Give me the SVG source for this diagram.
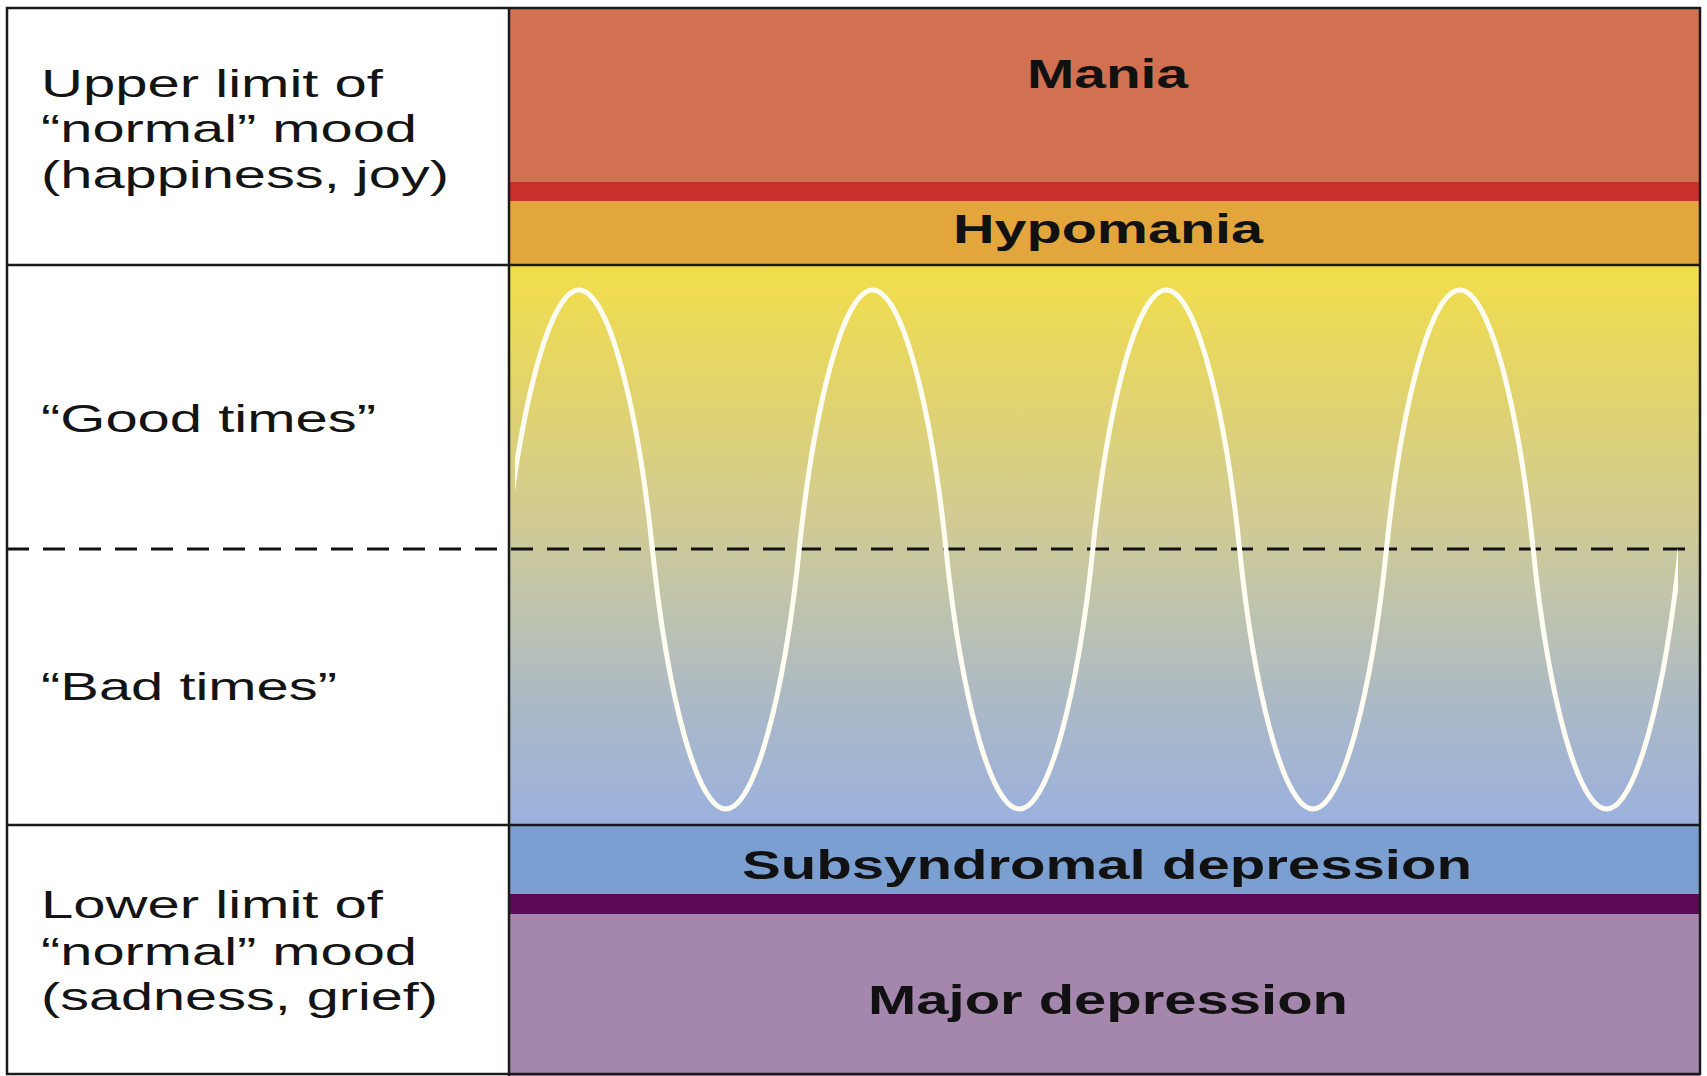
<svg xmlns="http://www.w3.org/2000/svg" width="1707" height="1076" viewBox="0 0 1707 1076">
<style>
.lbl{font-family:"Liberation Sans",Arial,sans-serif;font-size:39px;fill:#141414}
.band{font-family:"Liberation Sans",Arial,sans-serif;font-size:40px;font-weight:bold;fill:#111}
.grid{stroke:#1a1a1a;stroke-width:2.5;fill:none}
</style>
<defs>
<linearGradient id="mid" x1="0" y1="265" x2="0" y2="825" gradientUnits="userSpaceOnUse">
<stop offset="0" stop-color="#f2de4a"/>
<stop offset="0.22" stop-color="#e2d46c"/>
<stop offset="0.45" stop-color="#d2cb92"/>
<stop offset="0.6" stop-color="#c0c4ac"/>
<stop offset="0.8" stop-color="#aab8c8"/>
<stop offset="1" stop-color="#9bb1de"/>
</linearGradient>
<clipPath id="waveclip"><rect x="515" y="270" width="1163" height="552"/></clipPath>
</defs>
<rect x="0" y="0" width="1707" height="1076" fill="#ffffff"/>
<g id="bands">
<rect id="mania-band" x="509" y="8" width="1191" height="174" fill="#d27151"/>
<rect id="mania-line" x="509" y="182" width="1191" height="19.5" fill="#c8312b"/>
<rect id="hypomania-band" x="509" y="201.5" width="1191" height="63.5" fill="#e2a63d"/>
<rect id="normal-band" x="509" y="265" width="1191" height="560" fill="url(#mid)"/>
<rect id="subsyndromal-band" x="509" y="825" width="1191" height="69" fill="#7b9fd0"/>
<rect id="depression-line" x="509" y="894" width="1191" height="20" fill="#5d0a56"/>
<rect id="major-band" x="509" y="914" width="1191" height="162" fill="#a586ad"/>
</g>
<g id="connectors">
<line x1="7" y1="549" x2="1700" y2="549" stroke="#111" stroke-width="3" stroke-dasharray="22,14"/>
<path id="mood-wave" clip-path="url(#waveclip)" fill="none" stroke="#fffdf2" stroke-width="5" d="M505.6,549.5
c14.68,-142.73 44.04,-259.5 73.4,-259.5 c29.36,0 58.72,116.78 73.4,259.5 c14.68,142.73 44.04,259.5 73.4,259.5 c29.36,0 58.72,-116.78 73.4,-259.5
c14.68,-142.73 44.04,-259.5 73.4,-259.5 c29.36,0 58.72,116.78 73.4,259.5 c14.68,142.73 44.04,259.5 73.4,259.5 c29.36,0 58.72,-116.78 73.4,-259.5
c14.68,-142.73 44.04,-259.5 73.4,-259.5 c29.36,0 58.72,116.78 73.4,259.5 c14.68,142.73 44.04,259.5 73.4,259.5 c29.36,0 58.72,-116.78 73.4,-259.5
c14.68,-142.73 44.04,-259.5 73.4,-259.5 c29.36,0 58.72,116.78 73.4,259.5 c14.68,142.73 44.04,259.5 73.4,259.5 c29.36,0 58.72,-116.78 73.4,-259.5"/>
</g>
<g id="grid">
<rect class="grid" x="7" y="8" width="1693" height="1066"/>
<line class="grid" x1="509" y1="8" x2="509" y2="1076"/>
<line class="grid" x1="7" y1="265" x2="1700" y2="265"/>
<line class="grid" x1="7" y1="825" x2="1700" y2="825"/>
</g>
<g id="upper-limit">
<text class="lbl" x="41" y="97" textLength="342" lengthAdjust="spacingAndGlyphs">Upper limit of</text>
<text class="lbl" x="41" y="142" textLength="376" lengthAdjust="spacingAndGlyphs">“normal” mood</text>
<text class="lbl" x="41" y="188" textLength="408" lengthAdjust="spacingAndGlyphs">(happiness, joy)</text>
</g>
<g id="good-times">
<text class="lbl" x="41" y="432" textLength="335" lengthAdjust="spacingAndGlyphs">“Good times”</text>
</g>
<g id="bad-times">
<text class="lbl" x="41" y="700" textLength="296" lengthAdjust="spacingAndGlyphs">“Bad times”</text>
</g>
<g id="lower-limit">
<text class="lbl" x="41" y="918" textLength="342" lengthAdjust="spacingAndGlyphs">Lower limit of</text>
<text class="lbl" x="41" y="965" textLength="376" lengthAdjust="spacingAndGlyphs">“normal” mood</text>
<text class="lbl" x="41" y="1010" textLength="397" lengthAdjust="spacingAndGlyphs">(sadness, grief)</text>
</g>
<g id="mania">
<text class="band" x="1027" y="88" textLength="161" lengthAdjust="spacingAndGlyphs">Mania</text>
</g>
<g id="hypomania">
<text class="band" x="953" y="243" textLength="310" lengthAdjust="spacingAndGlyphs">Hypomania</text>
</g>
<g id="subsyndromal">
<text class="band" x="742" y="879" textLength="730" lengthAdjust="spacingAndGlyphs">Subsyndromal depression</text>
</g>
<g id="major-depression">
<text class="band" x="868" y="1014" textLength="480" lengthAdjust="spacingAndGlyphs">Major depression</text>
</g>
</svg>
